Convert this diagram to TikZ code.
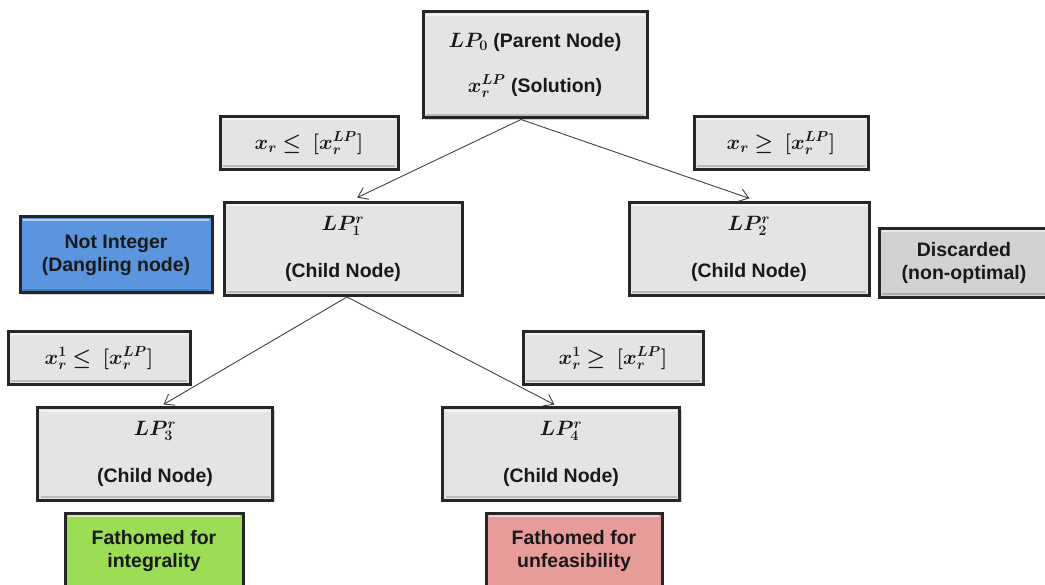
\documentclass[tikz,border=0pt]{standalone}
\usepackage{amsmath,bm}
\usepackage{fontspec}
\setmainfont{Liberation Sans}
\usetikzlibrary{arrows.meta,shadows}
\definecolor{boxgray}{HTML}{E4E4E4}
\definecolor{discgray}{HTML}{D2D2D2}
\definecolor{bluefill}{HTML}{5B95DD}
\definecolor{greenfill}{HTML}{9BDD55}
\definecolor{pinkfill}{HTML}{E89C9A}
\definecolor{edgedark}{HTML}{262626}
\definecolor{linegray}{HTML}{404040}
\newcommand{\bfs}{\fontsize{19.5}{23}\selectfont\bfseries}
\tikzset{
  box/.style={draw=edgedark, line width=3pt, fill=boxgray, inner sep=0pt,
    align=center, font=\bfs, text=black!90,
    drop shadow={opacity=0.35, shadow xshift=2pt, shadow yshift=-2pt},
    path picture={\draw[white, opacity=0.55, line width=2pt]
      ([shift={(3pt,-3pt)}]path picture bounding box.north west) --
      ([shift={(-3pt,-3pt)}]path picture bounding box.north east);
      \draw[black, opacity=0.18, line width=2pt]
      ([shift={(3pt,3pt)}]path picture bounding box.south west) --
      ([shift={(-3pt,3pt)}]path picture bounding box.south east);}},
  arr/.style={draw=linegray, line width=0.9pt,
    -{Straight Barb[length=9pt,width=13pt,line width=0.9pt]}}
}
\begin{document}
\begin{tikzpicture}[x=1pt,y=-1pt]
\clip (0,0) rectangle (1045,585);
\useasboundingbox (0,0) rectangle (1045,585);
\node[box, minimum width=224pt, minimum height=106pt] (LP0) at (535,65)
  {$\bm{LP_0}$ (Parent Node)\\[22pt]$\bm{x_r^{LP}}$ (Solution)};
\node[box, minimum width=178pt, minimum height=53pt] (lab1) at (309,143)
  {$\bm{x_r \le \;[x_r^{LP}]}$};
\node[box, minimum width=174pt, minimum height=53pt] (lab2) at (781,143)
  {$\bm{x_r \ge \;[x_r^{LP}]}$};
\node[box, minimum width=238pt, minimum height=93pt] (LP1) at (343,249)
  {$\bm{LP_1^r}$\\[24pt](Child Node)};
\node[box, fill=bluefill, minimum width=192pt, minimum height=76pt] (nint) at (116,255)
  {Not Integer\\(Dangling node)};
\node[box, minimum width=240pt, minimum height=93pt] (LP2) at (749,249)
  {$\bm{LP_2^r}$\\[24pt](Child Node)};
\node[box, fill=discgray, minimum width=170pt, minimum height=69pt] (disc) at (964,263)
  {Discarded\\(non-optimal)};
\node[box, minimum width=182pt, minimum height=53pt] (lab3) at (99,358)
  {$\bm{x_r^1 \le \;[x_r^{LP}]}$};
\node[box, minimum width=180pt, minimum height=53pt] (lab4) at (613,358)
  {$\bm{x_r^1 \ge \;[x_r^{LP}]}$};
\node[box, minimum width=235pt, minimum height=92pt] (LP3) at (155,454)
  {$\bm{LP_3^r}$\\[24pt](Child Node)};
\node[box, minimum width=237pt, minimum height=92pt] (LP4) at (561,454)
  {$\bm{LP_4^r}$\\[24pt](Child Node)};
\node[box, fill=greenfill, minimum width=178pt, minimum height=76pt] (fint) at (154,551)
  {Fathomed for\\integrality};
\node[box, fill=pinkfill, minimum width=176pt, minimum height=76pt] (funf) at (574,551)
  {Fathomed for\\unfeasibility};
\draw[arr, shorten >=8pt] ([xshift=-14pt]LP0.south) -- ([xshift=7pt]LP1.north);
\draw[arr, shorten >=8pt] ([xshift=-14pt]LP0.south) -- ([xshift=8pt]LP2.north);
\draw[arr, shorten >=4pt] ([xshift=4pt]LP1.south) -- ([xshift=5pt]LP3.north);
\draw[arr, shorten >=4pt] ([xshift=4pt]LP1.south) -- ([xshift=-3pt]LP4.north);
\end{tikzpicture}
\end{document}
